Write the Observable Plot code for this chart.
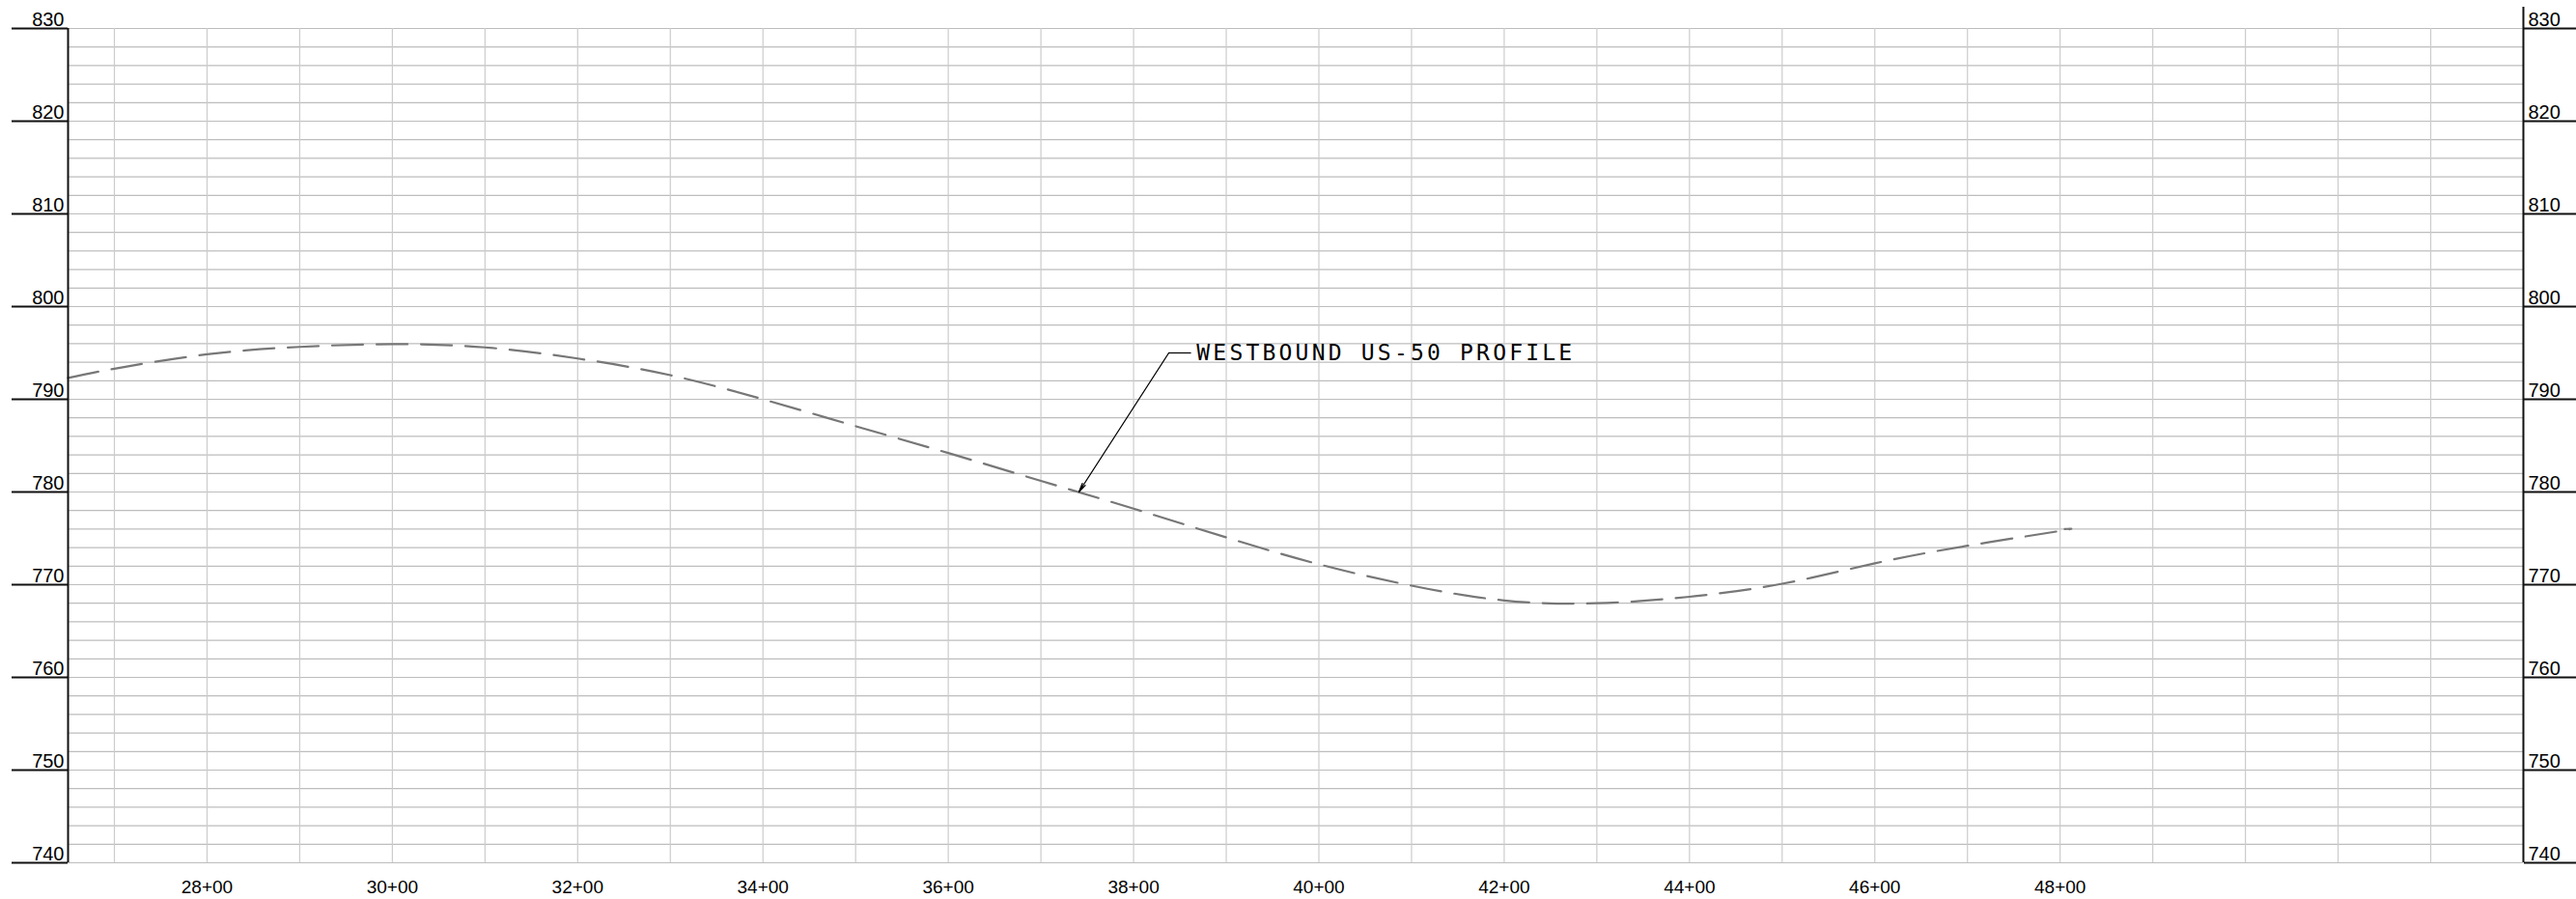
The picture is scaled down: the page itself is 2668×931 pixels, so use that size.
<!DOCTYPE html>
<html>
<head>
<meta charset="utf-8">
<script src="https://cdn.jsdelivr.net/npm/d3@7"></script>
<script src="https://cdn.jsdelivr.net/npm/@observablehq/plot@0.6"></script>
<style>
  html, body { margin: 0; padding: 0; background: #fff; }
  #chart svg { display: block; }
</style>
</head>
<body>
<div id="chart"></div>
<script>
// Profile data: station (ft) and elevation (ft)
const stations   = [2650, 2700, 2800, 2900, 3000, 3100, 3200, 3300, 3400, 3500, 3600, 3700, 3800, 3900, 4000, 4100, 4200, 4300, 4400, 4500, 4600, 4700, 4800, 4805];
const elevations = [792.3, 793.3, 794.85, 795.65, 795.95, 795.6, 794.4, 792.6, 790.0, 787.1, 784.2, 781.2, 778.2, 775.1, 772.2, 769.9, 768.3, 768.0, 768.7, 770.1, 772.3, 774.2, 775.8, 776.0];

// Axis ticks / labels
const stationLabels  = [2800, 3000, 3200, 3400, 3600, 3800, 4000, 4200, 4400, 4600, 4800];
const elevationTicks = [740, 750, 760, 770, 780, 790, 800, 810, 820, 830];

// Grid lines
const gridStations   = [2700, 2800, 2900, 3000, 3100, 3200, 3300, 3400, 3500, 3600, 3700, 3800, 3900, 4000, 4100, 4200, 4300, 4400, 4500, 4600, 4700, 4800, 4900, 5000, 5100, 5200];
const gridElevations = [740, 742, 744, 746, 748, 750, 752, 754, 756, 758, 760, 762, 764, 766, 768, 770, 772, 774, 776, 778, 780, 782, 784, 786, 788, 790, 792, 794, 796, 798, 800, 802, 804, 806, 808, 810, 812, 814, 816, 818, 820, 822, 824, 826, 828, 830];

// Annotation
const annotationText = "WESTBOUND US-50 PROFILE";
const annotationTip  = {station: 3741, elev: 780.0};
const annotationElbow = {station: 3838, elev: 795.0};
const annotationLeaderEnd = {station: 3862, elev: 795.0};
const annotationTextPos = {station: 3868, elev: 795.0};

const profile = stations.map((s, i) => ({station: s, elev: elevations[i]}));
const fmtStation = s => `${Math.floor(s / 100)}+${String(s % 100).padStart(2, "0")}`;

const labelFont = "'Liberation Sans', Arial, sans-serif";

const chart = Plot.plot({
  width: 2668,
  height: 931,
  marginLeft: 70,
  marginRight: 55,
  marginTop: 29,
  marginBottom: 38,
  x: {domain: [2650, 5300], axis: null},
  y: {domain: [740, 830], axis: null},
  style: {background: "#fff", fontFamily: labelFont},
  marks: [
    Plot.ruleY(gridElevations, {stroke: "#bdbdbd", strokeWidth: 1.2}),
    Plot.ruleX(gridStations, {stroke: "#cccccc", strokeWidth: 1.2}),
    Plot.line(profile, {x: "station", y: "elev", curve: "natural", stroke: "#777777", strokeWidth: 2.2, strokeDasharray: "32,14"}),
    // axes frame lines
    Plot.ruleX([2650], {stroke: "#111", strokeWidth: 2}),
    Plot.ruleX([5300], {stroke: "#111", strokeWidth: 2, insetTop: -22}),
    Plot.axisY(elevationTicks, {anchor: "left", tickSize: 58, stroke: "#111", strokeWidth: 2, fill: "none"}),
    Plot.axisY(elevationTicks, {anchor: "right", tickSize: 55, stroke: "#111", strokeWidth: 2, fill: "none"}),
    // elevation labels
    Plot.text(elevationTicks, {y: d => d, text: d => String(d), frameAnchor: "left", textAnchor: "end", lineAnchor: "bottom", dx: -4, dy: -3, fontSize: 20, fontFamily: labelFont, fill: "#000"}),
    Plot.text(elevationTicks, {y: d => d, text: d => String(d), frameAnchor: "right", textAnchor: "start", lineAnchor: "bottom", dx: 5, dy: -3, fontSize: 20, fontFamily: labelFont, fill: "#000"}),
    // station labels
    Plot.text(stationLabels, {x: d => d, text: fmtStation, frameAnchor: "bottom", lineAnchor: "bottom", dy: 31, fontSize: 19, fontFamily: labelFont, fill: "#000"}),
    // annotation
    Plot.arrow([0], {x1: () => annotationElbow.station, y1: () => annotationElbow.elev, x2: () => annotationTip.station, y2: () => annotationTip.elev, stroke: "#000", strokeWidth: 1.3, headLength: 11, headAngle: 22}),
    Plot.link([0], {x1: () => annotationElbow.station, y1: () => annotationElbow.elev, x2: () => annotationLeaderEnd.station, y2: () => annotationLeaderEnd.elev, stroke: "#000", strokeWidth: 1.2}),
    Plot.text([annotationText], {x: () => annotationTextPos.station, y: () => annotationTextPos.elev, text: d => d, textAnchor: "start", lineAnchor: "middle", fontSize: 23, fontFamily: "'DejaVu Sans Mono', monospace", fill: "#000"})
  ]
});

d3.select(chart).selectAll("text")
  .filter(function() { return this.textContent === annotationText; })
  .attr("letter-spacing", "3.2px");

document.getElementById("chart").appendChild(chart);
</script>
</body>
</html>
